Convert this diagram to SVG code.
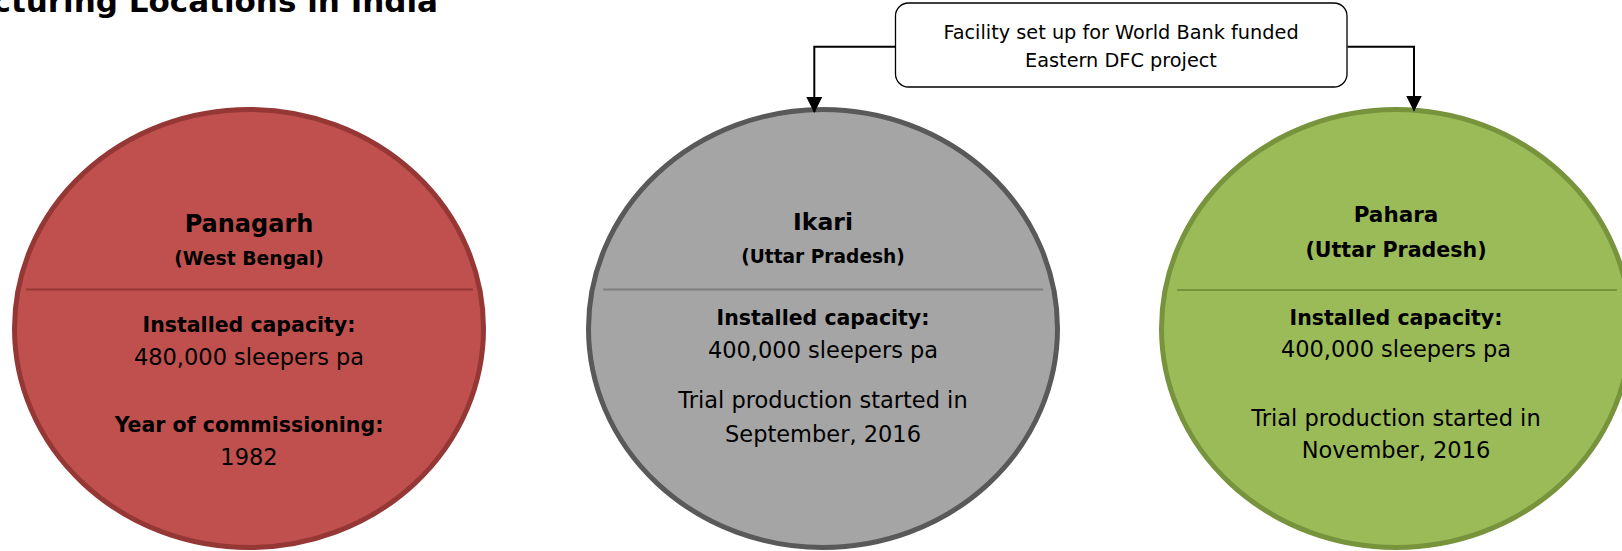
<svg xmlns="http://www.w3.org/2000/svg" width="1622" height="551" viewBox="0 0 1622 551">
  <style>
    text { font-family: "DejaVu Sans", "Liberation Sans", sans-serif; fill: #000; text-anchor: middle; }
    .b { font-weight: bold; }
    .body { font-size: 22.5px; }
    .lbl { font-size: 20.5px; font-weight: bold; }
    .conn { fill: none; stroke: #000; stroke-width: 2; }
    .red { fill: #C0504D; stroke: #953735; stroke-width: 5; }
    .gray { fill: #A5A5A5; stroke: #595959; stroke-width: 5; }
    .green { fill: #9BBB59; stroke: #77933C; stroke-width: 5; }
  </style>
  <defs>
    <marker id="arrow" markerUnits="userSpaceOnUse" markerWidth="16" markerHeight="16" viewBox="0 0 16 16" refX="15" refY="8" orient="auto">
      <path d="M0,0 L16,8 L0,16 Z" fill="#000"/>
    </marker>
  </defs>

  <text id="title" class="b" x="438" y="12" style="font-size:31px;text-anchor:end">cturing Locations in India</text>

  <g id="panagarh">
    <ellipse class="red" cx="249" cy="328.5" rx="234.5" ry="219"/>
    <line x1="26" y1="289.5" x2="473" y2="289.5" stroke="#953735" stroke-width="2"/>
    <text class="b" x="249" y="232" style="font-size:24px">Panagarh</text>
    <text class="b" x="249" y="265" style="font-size:18.8px">(West Bengal)</text>
    <text class="lbl" x="249" y="331.7">Installed capacity:</text>
    <text class="body" x="249" y="365">480,000 sleepers pa</text>
    <text class="lbl" x="249" y="431.7">Year of commissioning:</text>
    <text class="body" x="249" y="465">1982</text>
  </g>

  <g id="ikari">
    <ellipse class="gray" cx="823" cy="328.5" rx="234.5" ry="219"/>
    <line x1="603" y1="289.5" x2="1043" y2="289.5" stroke="#7F7F7F" stroke-width="2"/>
    <text class="b" x="823" y="230" style="font-size:23.5px">Ikari</text>
    <text class="b" x="823" y="262.7" style="font-size:18.6px">(Uttar Pradesh)</text>
    <text class="lbl" x="823" y="325">Installed capacity:</text>
    <text class="body" x="823" y="358">400,000 sleepers pa</text>
    <text class="body" x="823" y="408">Trial production started in</text>
    <text class="body" x="823" y="441.7">September, 2016</text>
  </g>

  <g id="pahara">
    <ellipse class="green" cx="1396" cy="328.5" rx="234.5" ry="219"/>
    <line x1="1177" y1="290" x2="1617" y2="290" stroke="#77933C" stroke-width="2"/>
    <text class="b" x="1396" y="221.7" style="font-size:21.5px">Pahara</text>
    <text class="b" x="1396" y="256.7" style="font-size:20.6px">(Uttar Pradesh)</text>
    <text class="lbl" x="1396" y="325">Installed capacity:</text>
    <text class="body" x="1396" y="356.7">400,000 sleepers pa</text>
    <text class="body" x="1396" y="426">Trial production started in</text>
    <text class="body" x="1396" y="458">November, 2016</text>
  </g>

  <g id="facility">
    <rect x="895.5" y="3" width="451.5" height="84" rx="13" ry="13" fill="#fff" stroke="#000" stroke-width="1.3"/>
    <text x="1121" y="39.3" style="font-size:19.3px">Facility set up for World Bank funded</text>
    <text x="1121" y="66.7" style="font-size:19.3px">Eastern DFC project</text>
  </g>

  <g id="connectors">
    <path class="conn" d="M895,46.7 H814.3 V112" marker-end="url(#arrow)"/>
    <path class="conn" d="M1347.5,46.7 H1414 V110.5" marker-end="url(#arrow)"/>
  </g>
</svg>
